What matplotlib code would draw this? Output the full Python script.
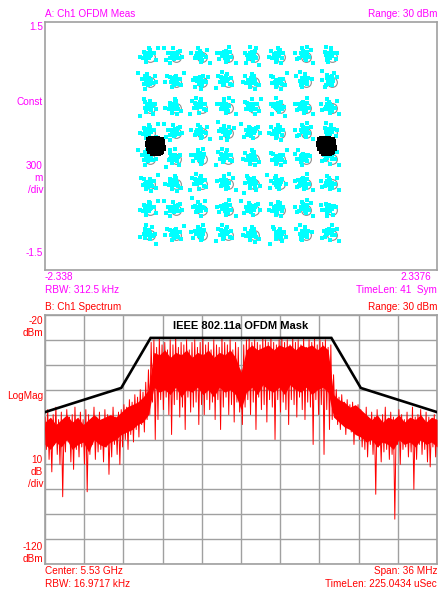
import matplotlib
matplotlib.use("Agg")
import matplotlib.pyplot as plt

# ---- data ----
qam_levels = [-1.08, -0.772, -0.463, -0.154, 0.154, 0.463, 0.772, 1.08]
pilot_pos = [-1.02, 1.02]

# scatter offsets around each ideal point
offs_x = [0.00, 0.02, -0.02, 0.01, -0.01, 0.03, -0.03, 0.02, -0.02, 0.00, 0.04, -0.04,
          0.05, -0.05, 0.03, -0.06, 0.07, -0.02, 0.01, -0.08, 0.09, -0.10, 0.04, 0.12]
offs_y = [0.00, 0.01, -0.01, 0.03, -0.03, -0.02, 0.02, -0.04, 0.04, 0.05, 0.00, -0.01,
          0.04, -0.04, -0.06, 0.03, -0.02, 0.08, -0.08, -0.05, 0.06, 0.02, 0.10, -0.09]
pilot_dx = [-0.08, -0.05, -0.01, 0.02, 0.06, 0.08, -0.09, -0.06, -0.02, 0.01, 0.05, 0.08,
            -0.08, -0.05, -0.01, 0.02, 0.06, 0.09, -0.06, -0.02, 0.01, 0.05, -0.03, 0.03, 0.07,
            0.0, 0.03, -0.03, 0.03, -0.03, 0.0, 0.0, 0.05, -0.05, 0.0]
pilot_dy = [0.07, 0.08, 0.09, 0.08, 0.07, 0.05, 0.02, 0.03, 0.04, 0.02, 0.02, 0.01,
            -0.02, -0.02, -0.01, -0.02, -0.04, -0.02, -0.06, -0.07, -0.06, -0.07, -0.09, -0.09, -0.06,
            0.0, 0.04, 0.04, -0.04, -0.04, 0.06, -0.05, 0.0, 0.0, -0.08]

# spectrum trace: peak / dip per 0.25 MHz bin
freq_start, freq_step = -18.0, 0.25
spec_hi = [-61, -58, -63, -60, -57, -62, -59, -64, -58, -61, -60, -57, -63, -59, -62, -58,
           -60, -64, -57, -61, -59, -62, -58, -60, -63, -57, -61, -59,
           -58, -56, -57, -54, -55, -52, -53, -50, -51, -47,
           -42,
           -31, -30, -33, -29, -32, -31, -34, -30, -32, -29, -33, -31, -32, -30, -34, -31,
           -30, -33, -31, -29, -32, -31, -34, -30, -32, -33, -29, -31, -32, -30, -34, -31, -33,
           -42,
           -32, -30, -29, -31, -30, -31, -32, -29, -30, -31, -29, -31, -32, -30, -29, -31,
           -30, -32, -29, -31, -30, -32, -29, -33, -30, -31, -29, -32, -30, -31, -30, -33, -32,
           -44, -50, -53, -52, -55, -54, -56, -55, -57, -56, -58,
           -60, -57, -62, -59, -61, -58, -63, -60, -57, -62, -59, -61, -64, -58, -60, -62,
           -59, -63, -57, -61, -60, -58, -62, -59, -61, -63, -60, -62]
spec_lo = [-74, -78, -83, -72, -76, -80, -93, -75, -71, -79, -82, -74, -77, -73, -80, -91,
           -76, -72, -78, -75, -74, -79, -73, -84, -77, -72, -76, -80,
           -73, -70, -74, -68, -71, -66, -69, -64, -67, -62,
           -60,
           -55, -70, -62, -54, -58, -53, -60, -68, -56, -54, -61, -57, -66, -53, -59, -57,
           -55, -64, -56, -60, -54, -58, -55, -62, -54, -66, -57, -53, -60, -56, -63, -55, -59,
           -64,
           -57, -54, -60, -55, -66, -53, -58, -56, -63, -54, -57, -70, -54, -59, -55, -58,
           -64, -54, -56, -61, -53, -58, -62, -55, -57, -72, -54, -60, -56, -76, -58, -66, -62,
           -60, -64, -66, -63, -68, -65, -67, -72, -66, -70, -73,
           -74, -77, -72, -76, -92, -73, -79, -75, -74, -78, -76, -102, -72, -80, -74, -73,
           -77, -75, -90, -78, -72, -76, -74, -79, -81, -73, -77, -75]

# dense core of the trace, per 0.5 MHz
core_step = 0.5
core_top = [-63, -61, -64, -62, -60, -63, -61, -64, -62, -60, -62, -61, -60, -61, -59, -57,
            -56, -55, -53, -50,
            -35, -36, -34, -37, -35, -36, -34, -37, -35, -36, -34, -37, -35, -36, -34, -37,
            -43,
            -34, -32, -34, -33, -32, -34, -32, -33, -32, -34, -32, -33, -32, -34, -32, -34,
            -52, -54, -55, -57, -56, -58, -60, -62, -60, -63, -61, -62, -60, -63, -61, -62,
            -60, -63, -61, -62]
core_bot = [-72, -74, -71, -73, -70, -74, -72, -71, -75, -70, -72, -73, -71, -70, -68, -67,
            -66, -64, -63, -60,
            -49, -51, -50, -52, -49, -53, -50, -51, -49, -52, -50, -53, -49, -51, -50, -52,
            -58,
            -51, -49, -52, -48, -50, -51, -49, -52, -48, -50, -51, -49, -52, -50, -49, -51,
            -61, -63, -65, -66, -68, -69, -71, -70, -73, -71, -72, -74, -70, -72, -71, -73,
            -70, -72, -71, -73]

mask_f = [-18, -11, -8.3, 8.3, 11, 18]
mask_db = [-59, -49.3, -29.2, -29.2, -49.3, -59]

# ---- figure ----
W, H = 438, 589
fig = plt.figure(figsize=(W / 100, H / 100), dpi=100)
fig.patch.set_facecolor("white")

MAG = "#FF00FF"
RED = "#FF0000"
FRAME = "#A0A0A0"
FONT = "Liberation Sans"
FS = 7.2


def pos(x, y):
    return x / W, 1 - y / H


def label(x, y, s, color, ha="left"):
    fig.text(*pos(x, y), s, color=color, ha=ha, va="center", fontsize=FS, family=FONT)


# constellation
ax1 = fig.add_axes([45 / W, 1 - 270 / H, 392 / W, 248 / H])
ax1.set_xlim(-2.338, 2.3376)
ax1.set_ylim(-1.5, 1.5)
ax1.set_xticks([])
ax1.set_yticks([])
for sp in ax1.spines.values():
    sp.set_color(FRAME)
    sp.set_linewidth(1.2)

px, py, cx, cy = [], [], [], []
k = 0
n = len(offs_x)
for yv in qam_levels:
    for xv in qam_levels:
        cx.append(xv)
        cy.append(yv)
        sx = 1 if k % 3 else -1
        sy = 1 if (k // 2) % 2 else -1
        swap = k % 5 == 0
        for j in range(18):
            idx = (k * 5 + j * 7) % n
            ox, oy = offs_x[idx], offs_y[idx]
            if swap:
                ox, oy = oy, ox
            px.append(xv + sx * ox - 0.03)
            py.append(yv + sy * oy + 0.02)
        k += 1
ax1.plot(cx, cy, "o", ms=7, mfc="none", mec="#8C8C8C", mew=0.8, zorder=2)
ax1.plot(px, py, "s", ms=2.3, color="#00FFFF", mew=0, zorder=3)
bx, by = [], []
for p in pilot_pos:
    for dx, dy in zip(pilot_dx, pilot_dy):
        bx.append(p + dx)
        by.append(dy)
ax1.plot(bx, by, "s", ms=3.8, color="black", mew=0, zorder=5)

label(45, 14, "A: Ch1 OFDM Meas", MAG)
label(437, 14, "Range: 30 dBm", MAG, "right")
label(43, 27, "1.5", MAG, "right")
label(43, 102, "Const", MAG, "right")
label(43, 166, "300", MAG, "right")
label(43, 178, "m", MAG, "right")
label(43, 190, "/div", MAG, "right")
label(43, 253, "-1.5", MAG, "right")
label(45, 277, "-2.338", MAG)
label(45, 290, "RBW: 312.5 kHz", MAG)
label(431, 277, "2.3376", MAG, "right")
label(437, 290, "TimeLen: 41  Sym", MAG, "right")

# spectrum
ax2 = fig.add_axes([45 / W, 1 - 564 / H, 392 / W, 249 / H])
ax2.set_xlim(-18, 18)
ax2.set_ylim(-120, -20)
ax2.set_xticks([-18 + 3.6 * i for i in range(11)])
ax2.set_yticks([-120 + 10 * i for i in range(11)])
ax2.tick_params(length=0, labelbottom=False, labelleft=False)
ax2.grid(True, color=FRAME, lw=1.0)
ax2.set_axisbelow(True)
for sp in ax2.spines.values():
    sp.set_color(FRAME)
    sp.set_linewidth(1.2)

tx, ty = [], []
for i, (hi, lo) in enumerate(zip(spec_hi, spec_lo)):
    f = freq_start + freq_step * i
    tx += [f, f + freq_step / 2]
    ty += [hi, lo]
core_f = [freq_start + core_step * i for i in range(len(core_top))]
ax2.fill_between(core_f, core_bot, core_top, color=RED, lw=0, zorder=3)
ax2.plot(tx, ty, color=RED, lw=0.7, zorder=3)
ax2.plot(mask_f, mask_db, color="black", lw=1.9, zorder=4, solid_joinstyle="miter")
ax2.text(0, -24.5, "IEEE 802.11a OFDM Mask", ha="center", va="center",
         fontsize=8, fontweight="bold", family=FONT, color="black", zorder=5)

label(45, 307, "B: Ch1 Spectrum", RED)
label(437, 307, "Range: 30 dBm", RED, "right")
label(43, 321, "-20", RED, "right")
label(43, 333, "dBm", RED, "right")
label(43, 396, "LogMag", RED, "right")
label(43, 460, "10", RED, "right")
label(43, 472, "dB", RED, "right")
label(43, 484, "/div", RED, "right")
label(43, 547, "-120", RED, "right")
label(43, 559, "dBm", RED, "right")
label(45, 571, "Center: 5.53 GHz", RED)
label(45, 584, "RBW: 16.9717 kHz", RED)
label(437, 571, "Span: 36 MHz", RED, "right")
label(437, 584, "TimeLen: 225.0434 uSec", RED, "right")

fig.savefig("out.png", dpi=100)
